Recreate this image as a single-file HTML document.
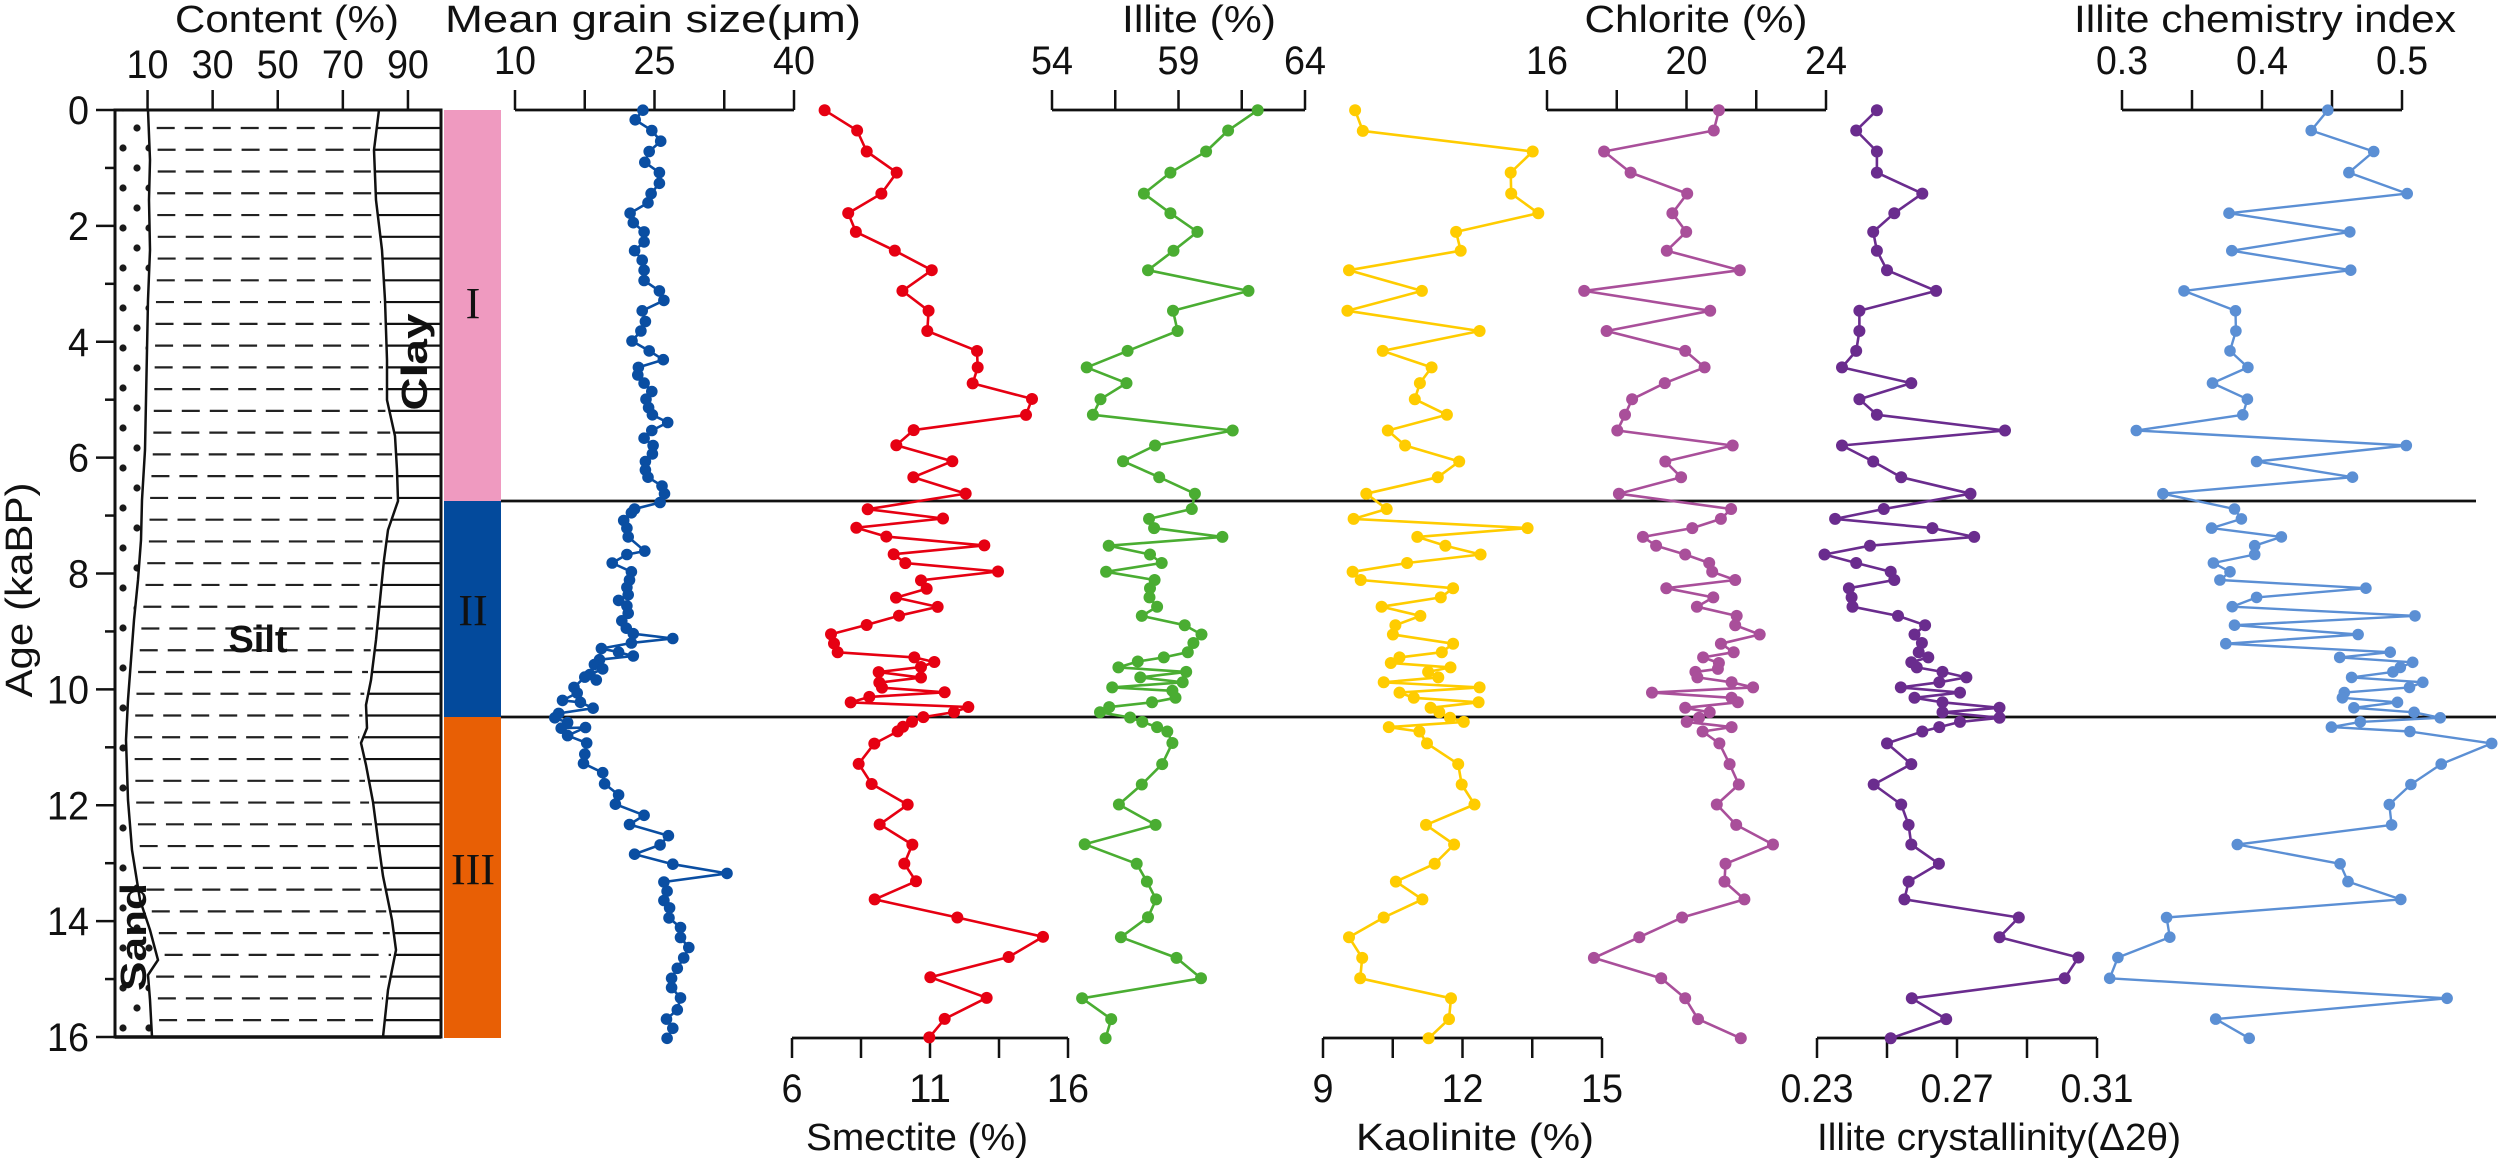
<!DOCTYPE html>
<html><head><meta charset="utf-8">
<style>
html,body{margin:0;padding:0;background:#fff;}
svg{display:block;}
text{font-family:"Liberation Sans Narrow","Liberation Sans",Arial,sans-serif;fill:#111;}
</style></head>
<body>
<svg id="s" width="2500" height="1161" viewBox="0 0 2500 1161" xmlns="http://www.w3.org/2000/svg">
<defs>
<pattern id="dots" x="0" y="0" width="26" height="40" patternUnits="userSpaceOnUse">
<circle cx="7" cy="8" r="3.6" fill="#1a1a1a"/>
<circle cx="19" cy="28" r="3.6" fill="#1a1a1a"/>
</pattern>
</defs>
<g id="g"></g>
</svg>
<script>
var NS="http://www.w3.org/2000/svg",G=document.getElementById("g");
function el(t,a,txt){var e=document.createElementNS(NS,t);for(var k in a)e.setAttribute(k,a[k]);if(txt!=null)e.textContent=txt;G.appendChild(e);return e;}
function line(x1,y1,x2,y2,w,c,extra){var a={x1:x1,y1:y1,x2:x2,y2:y2,stroke:c||"#111","stroke-width":w||2.5};if(extra)for(var k in extra)a[k]=extra[k];return el("line",a);}
function txt(x,y,s,fs,anchor,len,extra){var a={x:x,y:y,"font-size":fs,"text-anchor":anchor||"middle"};if(len){a.textLength=len;a.lengthAdjust="spacingAndGlyphs";}if(extra)for(var k in extra)a[k]=extra[k];return el("text",a,s);}
function numLen(s){var n=0;for(var i=0;i<s.length;i++)n+=(s[i]=='.'?10:21);return n;}

var Y0=110,Y1=1037,K=(Y1-Y0)/16;
line(501,501,2476,501,2.8);
line(501,717,2496,717,2.8);

el("rect",{x:444,y:110,width:57,height:391,fill:"#ef9ac0"});
el("rect",{x:444,y:501,width:57,height:216,fill:"#034a9c"});
el("rect",{x:444,y:717,width:57,height:321,fill:"#e85f05"});
txt(473,318,"I",44,"middle",null,{style:"font-family:'Liberation Serif',serif"});
txt(473,625,"II",44,"middle",null,{style:"font-family:'Liberation Serif',serif"});
txt(473,884,"III",44,"middle",null,{style:"font-family:'Liberation Serif',serif"});

var sand=[[110,148],[160,150],[200,149],[250,150],[300,148],[350,147],[400,146],[450,145],[500,142],[540,141],[580,138],[620,134],[660,131],[700,128],[740,126],[800,128],[850,132],[900,140],[930,150],[960,158],[975,148],[1000,150],[1037,152]];
var clay=[[110,379],[150,374],[200,376],[250,382],[300,385],[360,387],[400,387],[436,395],[470,397],[501,398],[530,388],[560,384],[600,380],[640,376],[680,371],[705,366],[728,367],[743,361],[765,366],[802,373],[840,378],[876,383],[920,392],[950,396],[990,388],[1037,383]];
function lx(arr,y){for(var i=1;i<arr.length;i++){if(y<=arr[i][0]){var a=arr[i-1],b=arr[i];return a[1]+(b[1]-a[1])*(y-a[0])/(b[0]-a[0]);}}return arr[arr.length-1][1];}
var sp="M115,110 ";sand.forEach(function(p){sp+="L"+p[1]+","+p[0]+" ";});sp+="L115,1037 Z";
el("path",{d:sp,fill:"url(#dots)"});
var d="";sand.forEach(function(p,i){d+=(i?"L":"M")+p[1]+","+p[0]+" ";});
el("path",{d:d,fill:"none",stroke:"#111","stroke-width":2.5});
d="";clay.forEach(function(p,i){d+=(i?"L":"M")+p[1]+","+p[0]+" ";});
el("path",{d:d,fill:"none",stroke:"#111","stroke-width":2.5});
for(var i=0;i<42;i++){var y=128+i*21.76;var xs=lx(sand,y)+8,xc=lx(clay,y);
 line(xs,y,xc-4,y,2.2,"#222",{"stroke-dasharray":"18,10"});
 line(xc,y,440,y,2.2,"#111");}
el("rect",{x:115,y:110,width:326,height:927,fill:"none",stroke:"#111","stroke-width":3});
[10,30,50,70,90].forEach(function(v){var x=115+v*3.255;line(x,110,x,90,2.5);txt(x,78,String(v),40,"middle",numLen(String(v)));});
txt(287,32,"Content (%)",38,"middle",224);
txt(258,652,"Silt",38,"middle",null,{"font-weight":"bold",style:"font-family:'Liberation Sans',sans-serif"});
txt(0,0,"Clay",36,"middle",97,{"font-weight":"bold",style:"font-family:'Liberation Sans',sans-serif",transform:"translate(427,362) rotate(-90)"});
txt(0,0,"Sand",36,"middle",108,{"font-weight":"bold",style:"font-family:'Liberation Sans',sans-serif",transform:"translate(146,937) rotate(-90)"});

line(115,110,115,1037,3);
for(var a=0;a<=16;a++){var y=Y0+a*K;if(a%2==0){line(96,y,115,y,2.5);txt(89,y+14,String(a),40,"end",numLen(String(a)));}else line(105,y,115,y,2.5);}
txt(0,0,"Age (kaBP)",38,"middle",215,{transform:"translate(32,590) rotate(-90)",style:"font-family:'Liberation Sans',sans-serif"});
line(115,1037,441,1037,3.5);

function topAxis(x0,x1,labels,nt,title,tx,tl){line(x0,110,x1,110,2.8);for(var i=0;i<nt;i++){var x=x0+(x1-x0)*i/(nt-1);line(x,110,x,90,2.5);}
 labels.forEach(function(l,i){var x=x0+(x1-x0)*i/(labels.length-1);txt(x,74,l,40,"middle",numLen(l));});txt(tx,32,title,38,"middle",tl);}
function botAxis(x0,x1,labels,nt,title,tx,tl){line(x0,1038,x1,1038,2.8);for(var i=0;i<nt;i++){var x=x0+(x1-x0)*i/(nt-1);line(x,1038,x,1058,2.5);}
 labels.forEach(function(l,i){var x=x0+(x1-x0)*i/(labels.length-1);txt(x,1102,l,40,"middle",numLen(l));});txt(tx,1150,title,38,"middle",tl);}
topAxis(515,794,["10","25","40"],5,"Mean grain size(\u03bcm)",653,416);
topAxis(1052,1305,["54","59","64"],5,"Illite (%)",1199,154);
topAxis(1547,1826,["16","20","24"],5,"Chlorite (%)",1696,223);
topAxis(2122,2402,["0.3","0.4","0.5"],5,"Illite chemistry index",2265,382);
botAxis(792,1068,["6","11","16"],5,"Smectite (%)",917,222);
botAxis(1323,1602,["9","12","15"],5,"Kaolinite (%)",1475,238);
botAxis(1817,2097,["0.23","0.27","0.31"],5,"Illite crystallinity(\u03942\u03b8)",1999,364);

function Z(sx,sy,ox,oy){return function(p){return [p[0]/sx+ox,p[1]/sy+oy];};}
var z1=Z(1.568,2.613,0,0),z2=Z(1.568,2.699,0,580),z3=Z(1.96,2.613,1000,0),z4=Z(1.96,2.699,1000,580),z5=Z(2.178,2.613,1780,0),z6=Z(2.178,2.699,1780,580),z7=Z(3,2.376,780,380);
function P(a){var r=[];for(var i=0;i<a.length;i+=2)r.push([a[i],a[i+1]]);return r;}
function series(top,tz,bot,bz,color,w,r){var pts=[];P(top).forEach(function(p){var q=tz(p);if(!bot||q[1]<576)pts.push(q);});if(bot)P(bot).forEach(function(p){pts.push(bz(p));});
 el("polyline",{points:pts.map(function(p){return p[0].toFixed(1)+","+p[1].toFixed(1);}).join(" "),fill:"none",stroke:color,"stroke-width":w||2.6,"stroke-linejoin":"round"});
 pts.forEach(function(p){el("circle",{cx:p[0].toFixed(1),cy:p[1].toFixed(1),r:r||6,fill:color});});}

series([1008,288,996,313,1022,341,1036,369,1018,396,1011,424,1034,451,1034,479,1021,506,1016,530,988,557,993,582,1010,606,1010,632,995,655,1007,680,1010,706,1010,733,1034,760,1041,785,1007,812,1012,840,1005,865,991,891,1018,917,1040,940,1001,960,1000,980,1010,1001,1022,1023,1013,1043,1017,1065,1023,1084,1047,1104,1022,1125,1010,1145,1024,1164,1023,1186,1012,1206,1012,1228,1016,1247,1038,1270,1042,1290,1035,1313,995,1330,990,1340,978,1360,983,1380,985,1403,1011,1440,983,1449,960,1471,990,1494],z1,
[987,0,983,20,985,40,970,55,983,70,985,90,975,110,982,130,993,145,1055,158,990,170,943,185,970,195,993,205,940,215,932,228,945,240,925,255,935,270,917,262,900,290,905,305,882,325,910,330,930,346,876,360,870,372,890,385,880,400,918,398,890,420,920,440,917,470,915,495,945,520,948,550,970,580,965,605,1010,635,987,660,1048,690,1035,715,995,740,1055,767,1140,792,1041,815,1046,840,1041,865,1050,885,1049,912,1067,938,1067,965,1080,992,1072,1020,1062,1048,1053,1075,1053,1100,1067,1128,1062,1160,1045,1185,1055,1210,1046,1237],z2,"#0a4ea2",2.6,5.8);

(function(){var pts=[];P([1293,288,1344,341,1359,396,1406,451,1382,506,1330,557,1342,606,1403,655,1461,706,1415,760,1456,812,1454,865,1532,917,1533,960]).forEach(function(p){pts.push(z1(p));});
P([578,8,756,45,738,83,401,119,349,155,517,193,400,231,557,270,263,307,489,329,229,351,319,372,613,393,341,414,376,435,654,455,423,476,440,496,348,517,473,539,357,560,260,582,153,604,162,626,173,647,403,659,463,670,423,682,296,694,423,707,298,719,306,731,494,742,268,753,212,766,565,777,522,789,430,801,396,812,369,824,353,835,283,864,236,912,275,960,383,1009,299,1056,397,1104,373,1149,408,1191,284,1234,532,1277,789,1323,686,1371,451,1419,620,1468,494,1518,448,1562]).forEach(function(p){pts.push(z7(p));});
el("polyline",{points:pts.map(function(p){return p[0].toFixed(1)+","+p[1].toFixed(1);}).join(" "),fill:"none",stroke:"#e60012","stroke-width":2.6,"stroke-linejoin":"round"});
pts.forEach(function(p){el("circle",{cx:p[0],cy:p[1],r:6,fill:"#e60012"});});})();

series([505,288,447,341,404,396,334,451,282,506,334,557,387,606,340,655,290,706,487,760,339,812,348,865,250,917,170,960,248,1001,197,1043,182,1084,456,1125,304,1164,241,1205,312,1247,382,1290,376,1330,292,1356,302,1380,436,1403,213,1426,294,1449,317,1471,208,1494],z3,
[303,0,294,22,293,47,308,72,278,97,362,122,395,147,379,170,368,195,321,209,270,220,232,236,365,248,275,263,358,276,220,290,338,299,344,318,298,330,214,343,196,357,255,371,279,383,308,397,328,409,338,440,318,497,278,552,233,606,305,661,166,713,268,766,288,814,306,862,290,910,237,964,346,1020,394,1075,161,1129,218,1185,207,1237],z4,"#4aad32",2.6,6);

series([696,288,711,342,1044,396,1001,451,1002,506,1055,557,894,606,903,655,684,706,827,760,681,812,940,865,750,917,846,960,823,1001,813,1043,876,1084,760,1125,794,1164,900,1206,858,1247,718,1290,758,1330,693,1356,1034,1380,818,1403,873,1426,942,1449,798,1471,691,1494],z3,
[707,0,888,22,864,47,748,72,824,97,775,122,770,147,888,172,866,195,783,209,766,224,883,236,839,248,859,263,752,276,940,290,783,304,811,318,938,330,844,345,861,357,882,372,909,383,762,397,822,409,837,441,898,497,905,552,930,606,835,661,890,714,852,766,776,814,828,862,752,911,684,964,710,1020,706,1075,884,1129,880,1185,840,1237],z4,"#ffcc00",2.6,6);

series([1409,288,1399,341,1184,396,1236,451,1347,506,1318,557,1345,606,1307,655,1450,706,1145,760,1392,812,1189,865,1343,917,1381,960,1303,1001,1239,1043,1225,1084,1210,1125,1436,1164,1304,1206,1335,1247,1213,1290,1433,1330,1413,1356,1357,1380,1260,1403,1286,1426,1343,1449,1390,1471,1396,1494],z3,
[1441,0,1306,22,1398,47,1366,72,1444,97,1441,122,1489,147,1413,172,1438,195,1378,209,1409,224,1407,240,1363,248,1367,263,1434,276,1476,290,1278,304,1434,318,1446,330,1343,345,1391,357,1370,372,1346,383,1434,397,1377,409,1410,441,1430,497,1448,552,1405,606,1443,661,1515,714,1422,766,1420,814,1459,862,1337,911,1253,964,1164,1020,1296,1075,1343,1129,1368,1185,1452,1237],z4,"#a94f9a",2.6,6);

series([211,288,166,341,211,396,211,451,310,506,249,557,203,606,211,655,233,706,340,760,173,812,173,865,166,917,135,960,286,1001,173,1043,211,1084,490,1125,135,1164,203,1206,264,1247,415,1290,226,1330,120,1356,332,1380,423,1403,196,1426,97,1449,166,1471,241,1494],z5,
[249,0,150,22,156,47,158,72,257,97,316,122,293,147,309,170,302,195,323,209,286,222,298,236,354,248,406,263,347,276,263,290,392,304,293,318,354,330,478,345,354,357,478,372,392,383,347,397,310,409,233,441,286,497,204,552,264,606,280,661,286,714,346,766,280,814,271,862,520,911,478,964,650,1019,620,1075,287,1129,362,1185,241,1237],z6,"#6a2c8e",2.6,6);

series([1193,288,1157,341,1293,396,1239,451,1366,506,978,557,1241,606,984,655,1243,706,880,760,992,812,993,865,980,917,1019,960,942,1001,1018,1043,1008,1084,776,1125,1364,1164,1038,1206,1247,1247,834,1290,990,1330,1005,1356,940,1380,1092,1403,1034,1426,1034,1449,944,1471,980,1494],z5,
[958,0,1276,22,1038,47,985,72,1383,97,990,122,1259,147,971,172,1329,195,1219,209,1378,222,1351,236,1335,248,1245,263,1400,276,1371,290,1229,304,1225,318,1345,330,1250,345,1381,357,1438,372,1264,383,1201,397,1372,409,1550,441,1440,497,1374,552,1327,606,1332,661,996,714,1220,766,1237,814,1352,862,842,911,849,964,736,1019,718,1075,1453,1129,949,1185,1022,1237],z6,"#5b8fd4",2.4,5.8);
</script>
</body></html>
